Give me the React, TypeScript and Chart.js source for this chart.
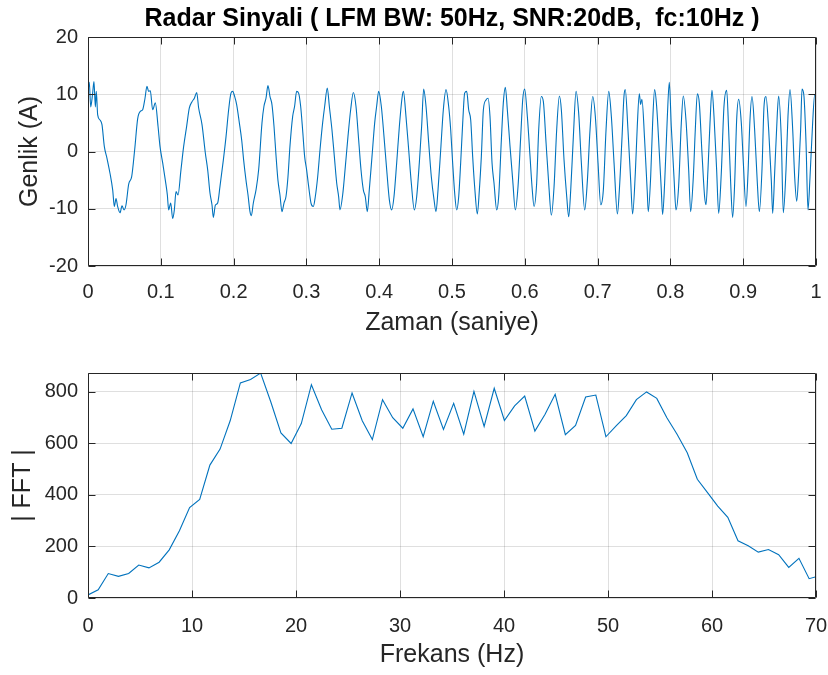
import React, { useEffect, useRef } from "react";
import { Chart, registerables } from "chart.js";

Chart.register(...registerables);

// ---- Top panel: noisy LFM radar signal (time in s, amplitude in A) ----
const timeSec = [
  0, 0.0018, 0.0037, 0.0064, 0.0082, 0.0101, 0.0114, 0.0133, 0.0165, 0.0192, 0.0224, 0.0261, 0.0302, 0.0339,
  0.0362, 0.0385, 0.0407, 0.044, 0.0467, 0.0495, 0.0522, 0.0559, 0.06, 0.0641, 0.0682, 0.0719, 0.0751, 0.0783,
  0.081, 0.0833, 0.0856, 0.0888, 0.0925, 0.0962, 0.0989, 0.1026, 0.1062, 0.109, 0.1108, 0.1136, 0.1163, 0.1186,
  0.1209, 0.1236, 0.1277, 0.1314, 0.1355, 0.1392, 0.1429, 0.1461, 0.1493, 0.152, 0.1566, 0.1612, 0.1644, 0.1676,
  0.1703, 0.1722, 0.1749, 0.1781, 0.1813, 0.1859, 0.1896, 0.1932, 0.1964, 0.1987, 0.2015, 0.2042, 0.2079, 0.2111,
  0.2138, 0.217, 0.2198, 0.2225, 0.2244, 0.2271, 0.2308, 0.2344,
  0.239, 0.2417, 0.2445, 0.2472, 0.25, 0.2527, 0.2555, 0.2582, 0.2609, 0.2637, 0.2664, 0.2692, 0.2719, 0.2747,
  0.2774, 0.2811, 0.2838, 0.2866, 0.2893, 0.2921, 0.2948, 0.2976, 0.3003, 0.3031, 0.3063, 0.3095, 0.3122, 0.3155,
  0.3187, 0.3223, 0.3251, 0.3287, 0.3315, 0.3351, 0.3384, 0.3416, 0.3443, 0.3461, 0.3498, 0.3535, 0.3571, 0.3608,
  0.3645, 0.3681, 0.3718, 0.375, 0.3782, 0.3809, 0.3837, 0.3864, 0.3901, 0.3938, 0.3965, 0.3993, 0.4029, 0.4066,
  0.4103, 0.4139, 0.4171, 0.4203, 0.424, 0.4277, 0.4313, 0.4332, 0.4368, 0.4405, 0.4441, 0.4483, 0.4515, 0.4551,
  0.4583, 0.4611, 0.4643, 0.468, 0.4716, 0.4753, 0.478, 0.4808, 0.4845, 0.4881, 0.4918,
  0.4954, 0.4982, 0.5009, 0.5037, 0.5064, 0.5092, 0.5119, 0.5147, 0.5174, 0.5202, 0.5229, 0.5257, 0.5284, 0.5311,
  0.5348, 0.5376, 0.5403, 0.5431, 0.5467, 0.5495, 0.5522, 0.555, 0.5577, 0.5614, 0.5641, 0.5678, 0.5705, 0.5733,
  0.576, 0.5797, 0.5834, 0.587, 0.5907, 0.5944, 0.5971, 0.5998, 0.6035, 0.6072, 0.6099, 0.6127, 0.6163, 0.6191,
  0.6227, 0.6255, 0.6292, 0.6328, 0.6365, 0.6402, 0.6438, 0.6475, 0.6502, 0.6539, 0.6576, 0.6603, 0.6631, 0.6667,
  0.6704, 0.674, 0.6777, 0.6823, 0.686, 0.6896, 0.6933, 0.6969, 0.7006, 0.7043, 0.7079, 0.7116, 0.7153, 0.7189,
  0.7226, 0.7272, 0.7299, 0.7336,
  0.7362, 0.738, 0.7417, 0.7454, 0.7481, 0.7518, 0.7545, 0.7573, 0.7591, 0.7609, 0.7646, 0.7683, 0.7696, 0.7729,
  0.7756, 0.7783, 0.7811, 0.7848, 0.7875, 0.7893, 0.7921, 0.7958, 0.7985, 0.8012, 0.8049, 0.8077, 0.8113, 0.815,
  0.8177, 0.8214, 0.8251, 0.8278, 0.8315, 0.8342, 0.837, 0.8397, 0.8434, 0.847, 0.8489, 0.8516, 0.8544, 0.8571,
  0.8599, 0.8635, 0.8663, 0.8699, 0.8736, 0.8773, 0.88, 0.8828, 0.8855, 0.8883, 0.891, 0.8938, 0.8974, 0.9002,
  0.9038, 0.9066, 0.9093, 0.9121, 0.9157, 0.9194, 0.9222, 0.9258, 0.9286, 0.9313, 0.935, 0.9386, 0.9405, 0.9432,
  0.9469, 0.9487, 0.9524, 0.9551, 0.9588, 0.9615, 0.9643, 0.968, 0.9707, 0.9735, 0.9762, 0.9789, 0.9808, 0.9835,
  0.9863, 0.989, 0.9918, 0.9954, 0.9982, 1.0,
];

const amplitude = [
  10.5, 12.1, 7.8, 10.2, 12.2, 7.8, 10.5, 6.4, 5.5, 4.7, 0.9, -1.2, -3.8, -6.7,
  -9.6, -8.2, -9.6, -10.7, -9.5, -10.2, -9.3, -5.7, -4.4, 0.3, 5.7, 7.0, 7.3, 9.3,
  11.4, 10.5, 10.6, 7.3, 8.5, 4.4, 0.9, -2.0, -5.0, -7.6, -10.2, -9.0, -11.7, -10.2,
  -7.0, -7.6, -3.2, 0.9, 4.4, 7.6, 8.7, 9.3, 10.3, 7.6, 4.7, -0.3, -3.2, -7.3,
  -9.3, -11.5, -9.4, -9.0, -6.1, -1.5, 2.6, 7.3, 10.2, 10.5, 9.6, 8.2, 5.0, 2.0,
  -1.5, -5.0, -7.6, -10.5, -11.2, -9.0, -6.7, -3.2,
  5.0, 7.9, 9.3, 11.5, 9.6, 8.2, 4.4, -0.6, -5.0, -7.6, -10.5, -9.0, -7.9, -4.4,
  0.9, 6.1, 7.9, 10.5, 10.2, 7.9, 3.8, -0.9, -3.2, -6.1, -9.0, -9.6, -7.9, -4.4,
  0.3, 5.0, 7.9, 11.1, 7.9, 3.8, -0.9, -5.5, -7.9, -10.2, -7.6, -2.6, 2.6, 7.3,
  10.3, 7.9, 2.0, -3.2, -6.7, -7.9, -10.5, -6.7, -0.9, 5.0, 7.9, 10.5, 7.9, 2.6,
  -3.2, -8.4, -10.2, -7.9, -2.0, 4.4, 9.3, 10.5, 6.1, 0.3, -5.5, -10.2, -7.9, -2.0,
  4.4, 10.9, 7.9, 1.5, -4.4, -8.4, -10.5, -6.7, 0.3, 7.3, 10.8,
  7.9, 3.8, -2.0, -7.3, -10.2, -7.9, -2.0, 5.0, 10.2, 10.5, 7.3, 5.5, -0.9, -6.1,
  -10.9, -6.7, -0.9, 7.3, 9.0, 9.3, 6.1, -2.0, -5.5, -10.2, -7.9, 2.0, 8.5, 11.2,
  7.3, 0.9, -5.0, -10.2, -6.1, 2.6, 9.0, 10.9, 6.1, -0.9, -6.1, -9.6, -5.5, 3.8,
  9.6, 8.7, 1.5, -5.5, -11.1, -6.1, 3.8, 9.7, 7.3, -1.5, -7.9, -11.4, -6.7, 2.6,
  10.5, 6.7, -2.0, -10.2, -5.0, 3.8, 9.6, 6.1, -2.0, -9.3, -6.7, 3.8, 10.5, 6.1,
  -2.0, -10.9, -6.7, 2.6,
  9.6, 10.8, 3.8, -5.0, -10.9, -3.8, 4.4, 10.1, 8.2, 9.1, 2.0, -7.3, -10.5, -4.4,
  5.0, 10.8, 7.9, -0.3, -6.7, -11.0, -5.5, 6.1, 12.1, 4.4, -4.4, -10.2, -6.1, 5.0,
  9.7, 5.5, -3.2, -10.5, -4.4, 3.8, 10.1, 8.5, -0.3, -7.9, -9.3, -3.2, 5.0, 10.7,
  6.1, -3.2, -10.8, -3.8, 7.9, 10.7, 3.8, -5.5, -11.5, -5.5, 5.5, 9.1, 5.0, -2.0,
  -9.6, -3.8, 5.5, 9.6, 3.8, -5.5, -10.5, -3.2, 7.9, 9.6, 3.8, -5.0, -10.8, -3.8,
  6.7, 9.7, 2.0, -10.7, -3.2, 6.1, 10.8, 3.8, -4.4, -8.7, -3.8, 3.8, 10.9, 9.6,
  1.5, -10.2, -4.4, 5.0, 9.9, 9.6,
];

// ---- Bottom panel: |FFT| magnitude spectrum ----
const freqHz = [
  0, 0.98, 1.95, 2.93, 3.91, 4.88, 5.86, 6.84, 7.81, 8.79, 9.77, 10.74, 11.72, 12.7, 13.67, 14.65, 15.63, 16.6,
  17.58, 18.55, 19.53, 20.51, 21.48, 22.46, 23.44, 24.41, 25.39, 26.37, 27.34, 28.32, 29.3, 30.27, 31.25, 32.23,
  33.2, 34.18, 35.16, 36.13, 37.11, 38.09, 39.06, 40.04, 41.02, 41.99, 42.97, 43.95, 44.92, 45.9, 46.88, 47.85,
  48.83, 49.8, 50.78, 51.76, 52.73, 53.71, 54.69, 55.66, 56.64, 57.62, 58.59, 59.57, 60.55, 61.52, 62.5, 63.48,
  64.45, 65.43, 66.41, 67.38, 68.36, 69.34, 70.31,
];

const fftMag = [
  12, 32, 95, 84, 95, 128, 117, 139, 187, 261, 351, 383, 516, 578, 688, 835, 848, 873,
  761, 641, 600, 677, 828, 731, 655, 659, 796, 688, 615, 770, 700, 659, 734, 626,
  764, 654, 756, 636, 802, 666, 814, 689, 746, 784, 648, 713, 791, 634, 670, 780,
  788, 626, 668, 708, 770, 800, 775, 700, 636, 564, 461, 409, 357, 313, 222, 203,
  178, 188, 168, 119, 154, 75, 86,
];

const TITLE = "Radar Sinyali ( LFM BW: 50Hz, SNR:20dB,  fc:10Hz )";
const FONT = "'Liberation Sans', Arial, Helvetica, sans-serif";
const AXIS = "#262626";
const GRID = "rgba(38,38,38,0.15)";
const LINE = "#0072BD";
const TICK_LEN = 7;

const fmt = (v: number) => String(Math.round(v * 1000) / 1000);

const boxPlugin = {
  id: "matlabBox",
  afterDraw(chart: any) {
    const { ctx, chartArea: a, scales } = chart;
    const L = Math.floor(a.left) + 0.5;
    const R = Math.floor(a.right) - 0.5;
    const T = Math.floor(a.top) + 0.5;
    const B = Math.floor(a.bottom) - 0.5;
    ctx.save();
    ctx.strokeStyle = AXIS;
    ctx.lineWidth = 1;
    ctx.beginPath();
    ctx.rect(L, T, R - L, B - T);
    ctx.stroke();
    ctx.beginPath();
    scales.x.ticks.forEach((t: any) => {
      const px = Math.round(scales.x.getPixelForValue(t.value)) + 0.5;
      ctx.moveTo(px, B);
      ctx.lineTo(px, B - TICK_LEN);
      ctx.moveTo(px, T);
      ctx.lineTo(px, T + TICK_LEN);
    });
    scales.y.ticks.forEach((t: any) => {
      const py = Math.round(scales.y.getPixelForValue(t.value)) + 0.5;
      ctx.moveTo(L, py);
      ctx.lineTo(L + TICK_LEN, py);
      ctx.moveTo(R, py);
      ctx.lineTo(R - TICK_LEN, py);
    });
    ctx.stroke();
    ctx.restore();
  },
};

function makeOptions(p: {
  xMin: number; xMax: number; xStep: number; yMin: number; yMax: number; yStep: number;
  xTitle: string; yTitle: string; xHeight: number; xTickPad: number; xTitlePadBottom: number;
  yTitlePadTop: number; padTop: number; title?: string;
}) {
  return {
    responsive: false,
    animation: false,
    devicePixelRatio: 1,
    events: [],
    layout: { padding: { left: 0, right: 12, top: p.padTop, bottom: 0 } },
    plugins: {
      legend: { display: false },
      tooltip: { enabled: false },
      title: {
        display: !!p.title,
        text: p.title || "",
        fullSize: false,
        color: "#000",
        font: { family: FONT, size: 25, weight: "bold" },
        padding: { top: 4, bottom: 3 },
      },
    },
    scales: {
      x: {
        type: "linear",
        min: p.xMin,
        max: p.xMax,
        afterFit: (s: any) => {
          s.height = p.xHeight;
          s.paddingLeft = 0;
          s.paddingRight = 0;
        },
        grid: { color: GRID, lineWidth: 1, drawTicks: false },
        border: { display: false },
        ticks: {
          stepSize: p.xStep,
          includeBounds: false,
          autoSkip: false,
          maxRotation: 0,
          padding: p.xTickPad,
          color: AXIS,
          font: { family: FONT, size: 20 },
          callback: (v: any) => fmt(Number(v)),
        },
        title: {
          display: true,
          text: p.xTitle,
          color: AXIS,
          font: { family: FONT, size: 25 },
          padding: { top: 0, bottom: p.xTitlePadBottom },
        },
      },
      y: {
        min: p.yMin,
        max: p.yMax,
        afterFit: (s: any) => {
          s.width = 88;
          s.paddingTop = 0;
          s.paddingBottom = 0;
        },
        grid: { color: GRID, lineWidth: 1, drawTicks: false },
        border: { display: false },
        ticks: {
          stepSize: p.yStep,
          includeBounds: false,
          autoSkip: false,
          padding: 10,
          color: AXIS,
          font: { family: FONT, size: 20 },
          callback: (v: any) => fmt(Number(v)),
        },
        title: {
          display: true,
          text: p.yTitle,
          color: AXIS,
          font: { family: FONT, size: 25 },
          padding: { top: p.yTitlePadTop, bottom: 0 },
        },
      },
    },
  } as any;
}

export default function App() {
  const topRef = useRef<HTMLCanvasElement | null>(null);
  const botRef = useRef<HTMLCanvasElement | null>(null);

  useEffect(() => {
    const top = new Chart(topRef.current as HTMLCanvasElement, {
      type: "line",
      data: {
        datasets: [
          {
            data: timeSec.map((t, i) => ({ x: t, y: amplitude[i] })),
            borderColor: LINE,
            borderWidth: 1.1,
            pointRadius: 0,
            cubicInterpolationMode: "monotone",
            fill: false,
          },
        ],
      },
      options: makeOptions({
        xMin: 0, xMax: 1, xStep: 0.1, yMin: -20, yMax: 20, yStep: 10,
        xTitle: "Zaman (saniye)", yTitle: "Genlik (A)",
        xHeight: 74, xTickPad: 14, xTitlePadBottom: 2, yTitlePadTop: 15, padTop: 0,
        title: TITLE,
      }),
      plugins: [boxPlugin],
    } as any);

    const bot = new Chart(botRef.current as HTMLCanvasElement, {
      type: "line",
      data: {
        datasets: [
          {
            data: freqHz.map((f, i) => ({ x: f, y: fftMag[i] })),
            borderColor: LINE,
            borderWidth: 1.1,
            pointRadius: 0,
            tension: 0,
            fill: false,
          },
        ],
      },
      options: makeOptions({
        xMin: 0, xMax: 70, xStep: 10, yMin: 0, yMax: 873.5, yStep: 200,
        xTitle: "Frekans (Hz)", yTitle: "| FFT |",
        xHeight: 77, xTickPad: 16, xTitlePadBottom: 5, yTitlePadTop: 8, padTop: 33,
      }),
      plugins: [boxPlugin],
    } as any);

    return () => {
      top.destroy();
      bot.destroy();
    };
  }, []);

  return (
    <div style={{ position: "absolute", left: 0, top: 0, width: 828, height: 675, background: "#fff" }}>
      <canvas ref={topRef} width={828} height={340} style={{ position: "absolute", left: 0, top: 0 }} />
      <canvas ref={botRef} width={828} height={335} style={{ position: "absolute", left: 0, top: 340 }} />
    </div>
  );
}
